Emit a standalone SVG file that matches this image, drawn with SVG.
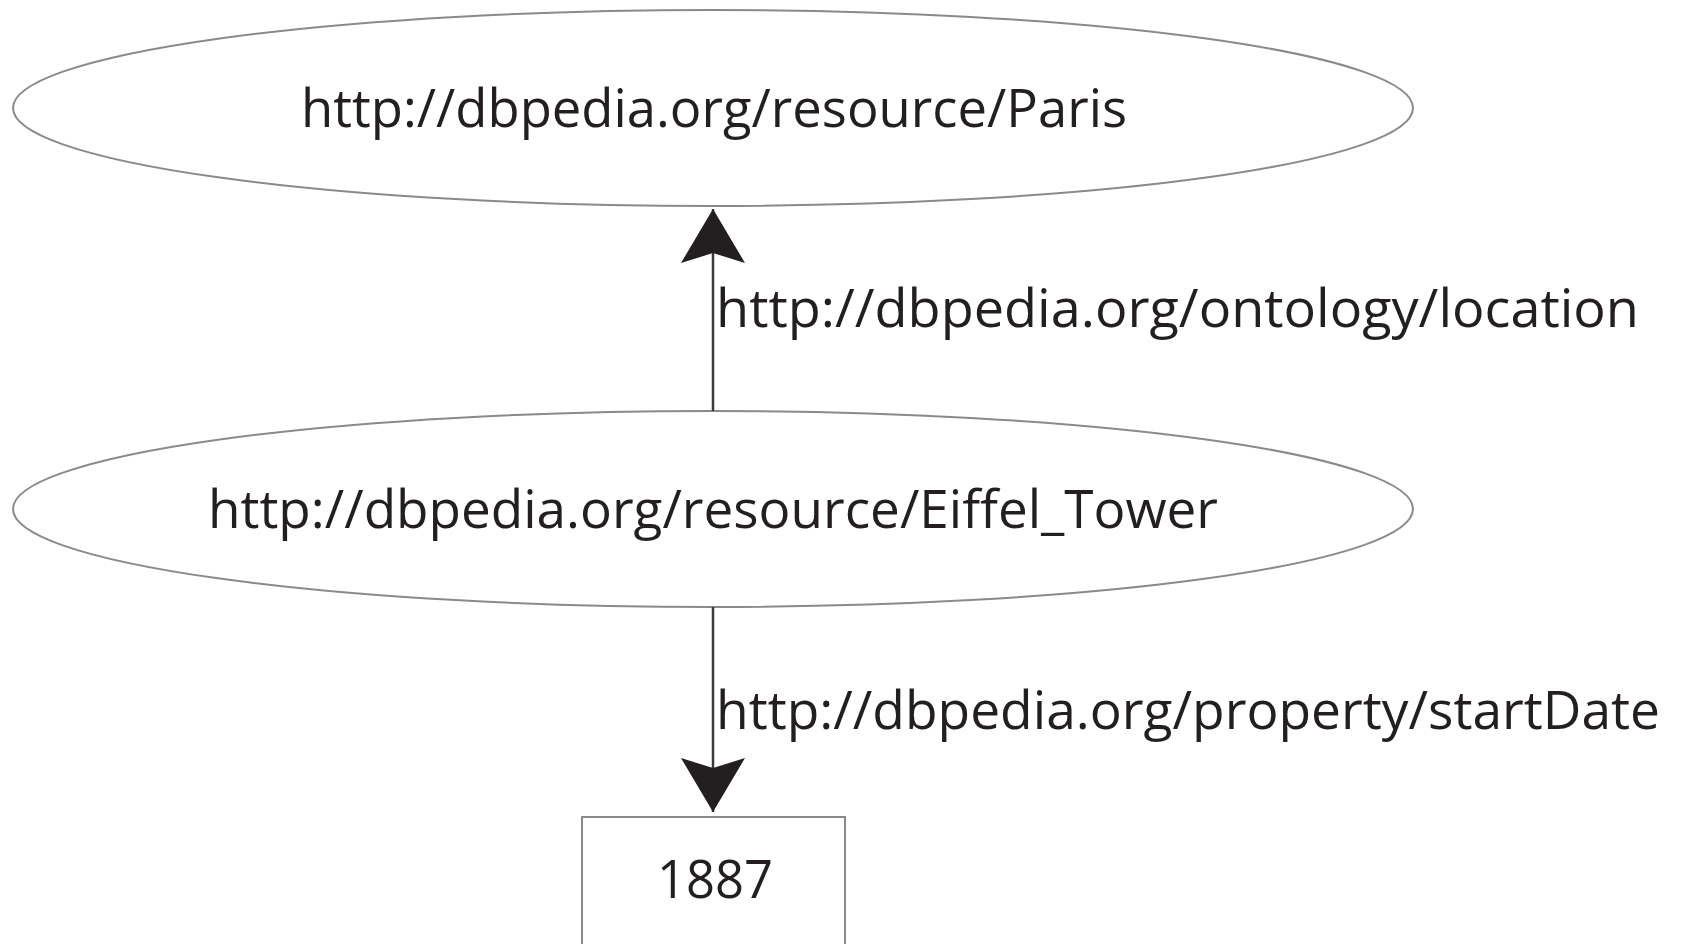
<svg xmlns="http://www.w3.org/2000/svg" width="1683" height="944" viewBox="0 0 1683 944">
<style>
.node{fill:#fff;stroke:#8a8a8a;stroke-width:2}
.lbl{font-family:"Open Sans","Noto Sans",sans-serif;font-size:53px;fill:#231f20}
.edge{stroke:#3a3a3a;stroke-width:2.5;fill:none}
</style>
<defs>
<marker id="ah" markerUnits="userSpaceOnUse" viewBox="0 0 54 64" markerWidth="54" markerHeight="64" refX="54" refY="32" orient="auto">
<path d="M54,32 L0,0 L10,32 L0,64 Z" fill="#231f20"/>
</marker>
</defs>
<rect width="1683" height="944" fill="#fff"/>
<g id="paris">
<ellipse class="node" cx="713" cy="108" rx="700" ry="98"/>
<text class="lbl" x="301" y="127" textLength="826" lengthAdjust="spacingAndGlyphs">http://dbpedia.org/resource/Paris</text>
</g>
<g id="eiffel">
<ellipse class="node" cx="713" cy="509" rx="700" ry="98"/>
<text class="lbl" x="208" y="528" textLength="1010" lengthAdjust="spacingAndGlyphs">http://dbpedia.org/resource/Eiffel_Tower</text>
</g>
<g id="year">
<rect class="node" x="582" y="817" width="263" height="140"/>
<text class="lbl" x="657" y="898" textLength="116" lengthAdjust="spacingAndGlyphs">1887</text>
</g>
<g id="connectors">
<line class="edge" x1="713" y1="411" x2="713" y2="209" marker-end="url(#ah)"/>
<text class="lbl" x="716" y="327" textLength="923" lengthAdjust="spacingAndGlyphs">http://dbpedia.org/ontology/location</text>
<line class="edge" x1="713" y1="607" x2="713" y2="812" marker-end="url(#ah)"/>
<text class="lbl" x="716" y="729" textLength="944" lengthAdjust="spacingAndGlyphs">http://dbpedia.org/property/startDate</text>
</g>
</svg>
